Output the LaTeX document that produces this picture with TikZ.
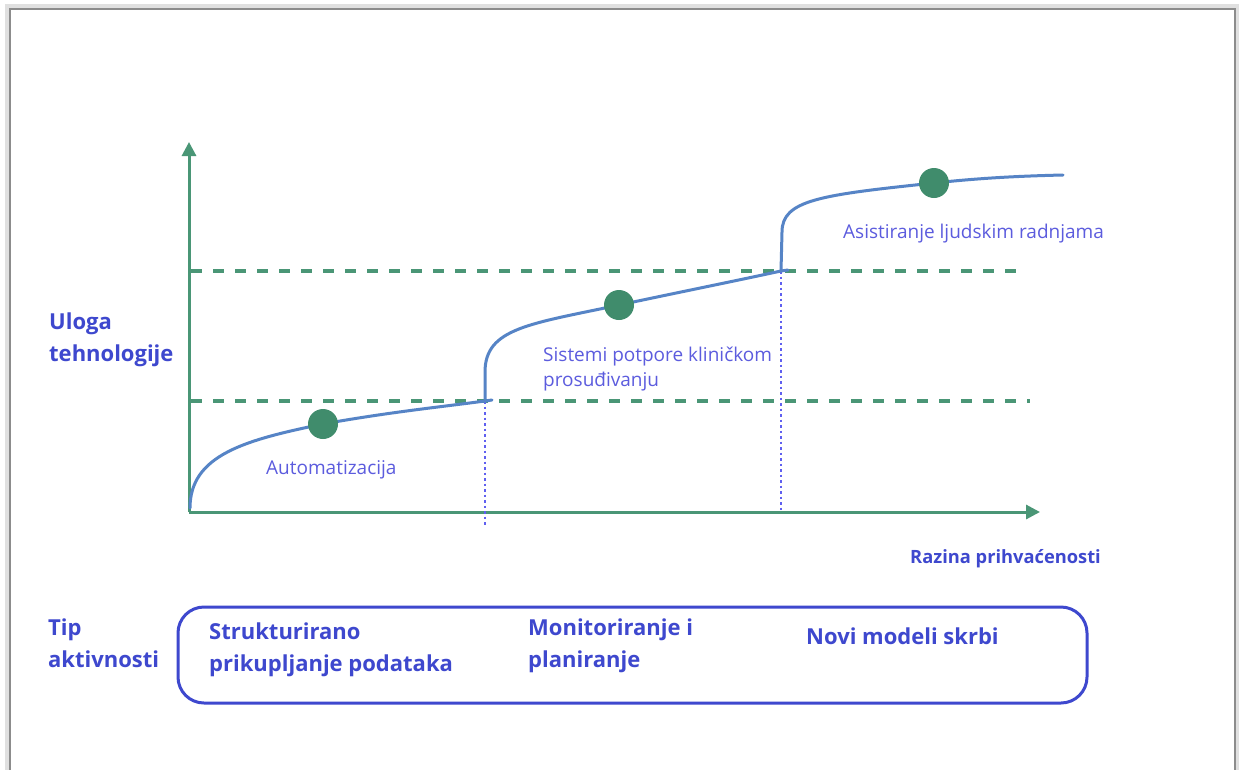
\documentclass[tikz,border=0pt]{standalone}
\usepackage{fontspec}
\setmainfont{Open Sans}
\usetikzlibrary{arrows.meta}
\definecolor{axgreen}{RGB}{74,150,118}
\definecolor{dotgreen}{RGB}{64,140,108}
\definecolor{curveblue}{RGB}{86,132,198}
\definecolor{labelblue}{RGB}{92,92,222}
\definecolor{boldblue}{RGB}{62,72,206}
\definecolor{dotblue}{RGB}{96,96,240}
\tikzset{
  axisline/.style={draw=axgreen, line width=3pt, -{Triangle[length=14pt,width=14pt]}},
  guide/.style={draw=axgreen, line width=3.5pt, dash pattern=on 11pt off 11pt},
  drop/.style={draw=dotblue, line width=2pt, dash pattern=on 2.5pt off 3pt},
  curve/.style={draw=curveblue, line width=3pt, line cap=round},
  milestone/.style={circle, fill=dotgreen, minimum size=30pt, inner sep=0pt},
  plotlabel/.style={anchor=base west, inner sep=0pt, text=labelblue, font=\fontsize{19}{25}\selectfont},
  boldlabel/.style={anchor=base west, inner sep=0pt, text=boldblue, font=\fontsize{22}{32}\selectfont\bfseries, align=left},
  activitybox/.style={draw=boldblue, line width=3pt, rounded corners=26pt},
}
\begin{document}
\begin{tikzpicture}[x=1pt,y=-1pt]
\useasboundingbox (0,0) rectangle (1239,769);
\fill[white] (0,0) rectangle (1239,769);
% frame of the screenshot
\draw[black!12, line width=5pt] (7,772) -- (7,6) -- (1238,6) -- (1238,772);
\draw[black!45, line width=1.2pt] (10,772) -- (10,9) -- (1235,9) -- (1235,772);

% axes
\coordinate (O) at (189,512);
\coordinate (ytip) at (189,142);
\coordinate (xtip) at (1040,512);
\draw[axisline] (O) -- (ytip);
\draw[axisline] (O) -- (xtip);

% guide lines
\coordinate (g1s) at (191,401);
\coordinate (g1e) at (1030,401);
\coordinate (g2s) at (191,271);
\coordinate (g2e) at (1027,271);
\draw[guide] (g1s) -- (g1e);
\draw[guide] (g2s) -- (g2e);

% junction points and drops
\coordinate (j1) at (485,401);
\coordinate (j2) at (781,271);
\coordinate (j1b) at (485,526);
\coordinate (j2b) at (781,512);
\draw[drop] (j1) -- (j1b);
\draw[drop] (j2) -- (j2b);

% curve
\coordinate (c0) at (190,508);
\coordinate (p1) at (323,424);
\coordinate (p2) at (619,305);
\coordinate (p3) at (934,183);
\coordinate (cend) at (1063,175);
\draw[curve] (c0) .. controls (190,455) and (245,440) .. (p1)
  .. controls (390,412) and (440,407) .. (j1) -- (492,400);
\draw[curve] (j1) -- (485,372) .. controls (485,328) and (530,324) .. (p2)
  .. controls (690,290) and (730,282) .. (j2) -- (788,270);
\draw[curve] (j2) -- (782,232) .. controls (782,200) and (820,195) .. (p3)
  .. controls (980,178) and (1020,176) .. (cend);

\node[milestone] (m1) at (p1) {};
\node[milestone] (m2) at (p2) {};
\node[milestone] (m3) at (p3) {};

% plot labels
\node[plotlabel] (l1) at (266,474) {Automatizacija};
\node[plotlabel, align=left] (l2) at (543,386) {Sistemi potpore kliničkom\\prosuđivanju};
\node[plotlabel] (l3) at (843,238) {Asistiranje ljudskim radnjama};

% axis titles
\node[boldlabel] (ytitle) at (49,361) {Uloga\\tehnologije};
\node[boldlabel, font=\fontsize{18.3}{22}\selectfont\bfseries] (xtitle) at (910,563) {Razina prihvaćenosti};

% activity row
\node[boldlabel] (tip) at (48,667) {Tip\\aktivnosti};
\draw[activitybox] (178,607) rectangle (1087,703);
\node[boldlabel] (a1) at (209,671) {Strukturirano\\prikupljanje podataka};
\node[boldlabel] (a2) at (528,667) {Monitoriranje i\\planiranje};
\node[boldlabel] (a3) at (806,644) {Novi modeli skrbi};
\end{tikzpicture}
\end{document}
